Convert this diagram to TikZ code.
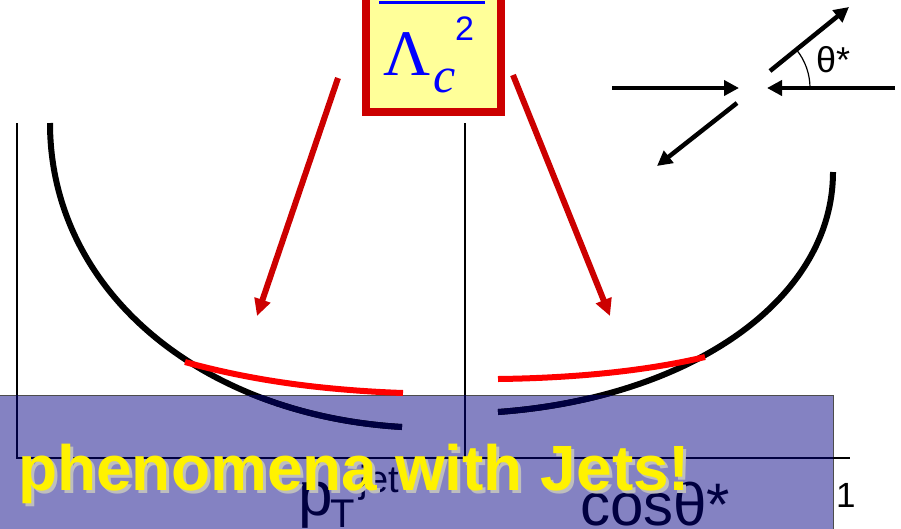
\documentclass[tikz,border=0pt]{standalone}
\usepackage{fontspec}
\setmainfont{Liberation Sans}
\newfontfamily\timesfont{Liberation Serif}
\usetikzlibrary{arrows.meta,calc}
\definecolor{bandblue}{RGB}{132,130,194}
\definecolor{navyline}{RGB}{0,0,64}
\definecolor{darkred}{RGB}{204,0,0}
\definecolor{paleyellow}{RGB}{255,255,153}
\definecolor{shadowgray}{RGB}{190,190,190}

\newcommand{\plotcurves}[1]{%
  \draw[#1, axisline] (17,123) -- (17,458) -- (850,458);
  \draw[#1, axisline] (465,123) -- (465,458);
  \draw[#1, curve] (50,123) .. controls (50,290) and (200,415) .. (402,427);
  \draw[#1, curve] (833,172) .. controls (833,300) and (690,398) .. (498,412);
}

\begin{document}
\begin{tikzpicture}[x=1pt,y=-1pt,
    curve/.style={line width=6pt},
    axisline/.style={line width=1.5pt},
    hit/.style={line width=4.5pt, -{Triangle[length=15pt,width=15pt]}},
    pointer/.style={darkred, line width=6pt, -{Triangle[length=17pt,width=16pt]}},
    lbl/.style={inner sep=0pt, anchor=base west}]
  \useasboundingbox (0,0) rectangle (901,528);
  \clip (0,0) rectangle (901,528);

  % Shaded band
  \fill[bandblue] (0,395) rectangle (833,540);
  \draw[black!70, line width=1pt] (0,395) -- (833,395) -- (833,540);

  % Axes and curves, darker inside the band
  \plotcurves{black}
  \begin{scope}
    \clip (0,395) rectangle (833,528);
    \plotcurves{navyline}
  \end{scope}

  % Deviations
  \draw[red, curve] (185,362) .. controls (250,380) and (320,390) .. (403,393);
  \draw[red, curve] (498,379) .. controls (580,378) and (650,370) .. (705,357);

  % Scale box
  \node[draw=darkred, line width=8pt, fill=paleyellow, minimum width=135pt,
        minimum height=142pt, inner sep=0pt] (scale) at (433.5,41) {};
  \draw[blue, line width=3pt] (379,2.5) -- (485,2.5);
  \node[lbl, blue, font=\timesfont\fontsize{65}{65}\selectfont] (lam) at (383,75) {Λ};
  \node[lbl, blue, font=\timesfont\itshape\fontsize{50}{50}\selectfont] (lamc) at (433,92) {c};
  \node[lbl, blue, font=\fontsize{34}{34}\selectfont] (lamsq) at (455,40) {2};

  % Pointers to the deviations
  \coordinate (pl) at (338,78);
  \coordinate (pr) at (513,75);
  \coordinate (tl) at (257,316);
  \coordinate (tr) at (610,316);
  \draw[pointer] (pl) -- (tl);
  \draw[pointer] (pr) -- (tr);

  % Scattering sketch
  \coordinate (v) at (749,88);
  \draw[hit] (612,88) -- (739,88);
  \draw[hit] (895,88) -- (767,88);
  \draw[hit] (770,71) -- (849,7);
  \draw[hit] (737,103) -- (657,166);
  \draw[line width=1.2pt] ($(v)+(61,0)$) arc[start angle=0, end angle=-39, radius=61];
  \node[lbl, font=\fontsize{36}{36}\selectfont] (theta) at (816,72) {θ*};

  % Axis labels
  \node[lbl, navyline, font=\fontsize{62}{62}\selectfont] (pt) at (298,515) {p};
  \node[lbl, navyline, font=\fontsize{40}{40}\selectfont] (ptsub) at (330,527) {T};
  \node[lbl, navyline, font=\fontsize{38}{38}\selectfont] (ptsup) at (359,492) {jet};
  \node[lbl, navyline, font=\fontsize{60}{60}\selectfont] (cos) at (580,525) {cosθ*};
  \node[lbl, font=\fontsize{35}{35}\selectfont] (one) at (836,507) {1};

  % Title with shadow
  \foreach \d/\col in {3/shadowgray, 0/yellow}
    \node[lbl, \col, font=\bfseries\fontsize{64}{64}\selectfont] at (18+\d,490+\d) {phenomena with Jets!};
\end{tikzpicture}
\end{document}
